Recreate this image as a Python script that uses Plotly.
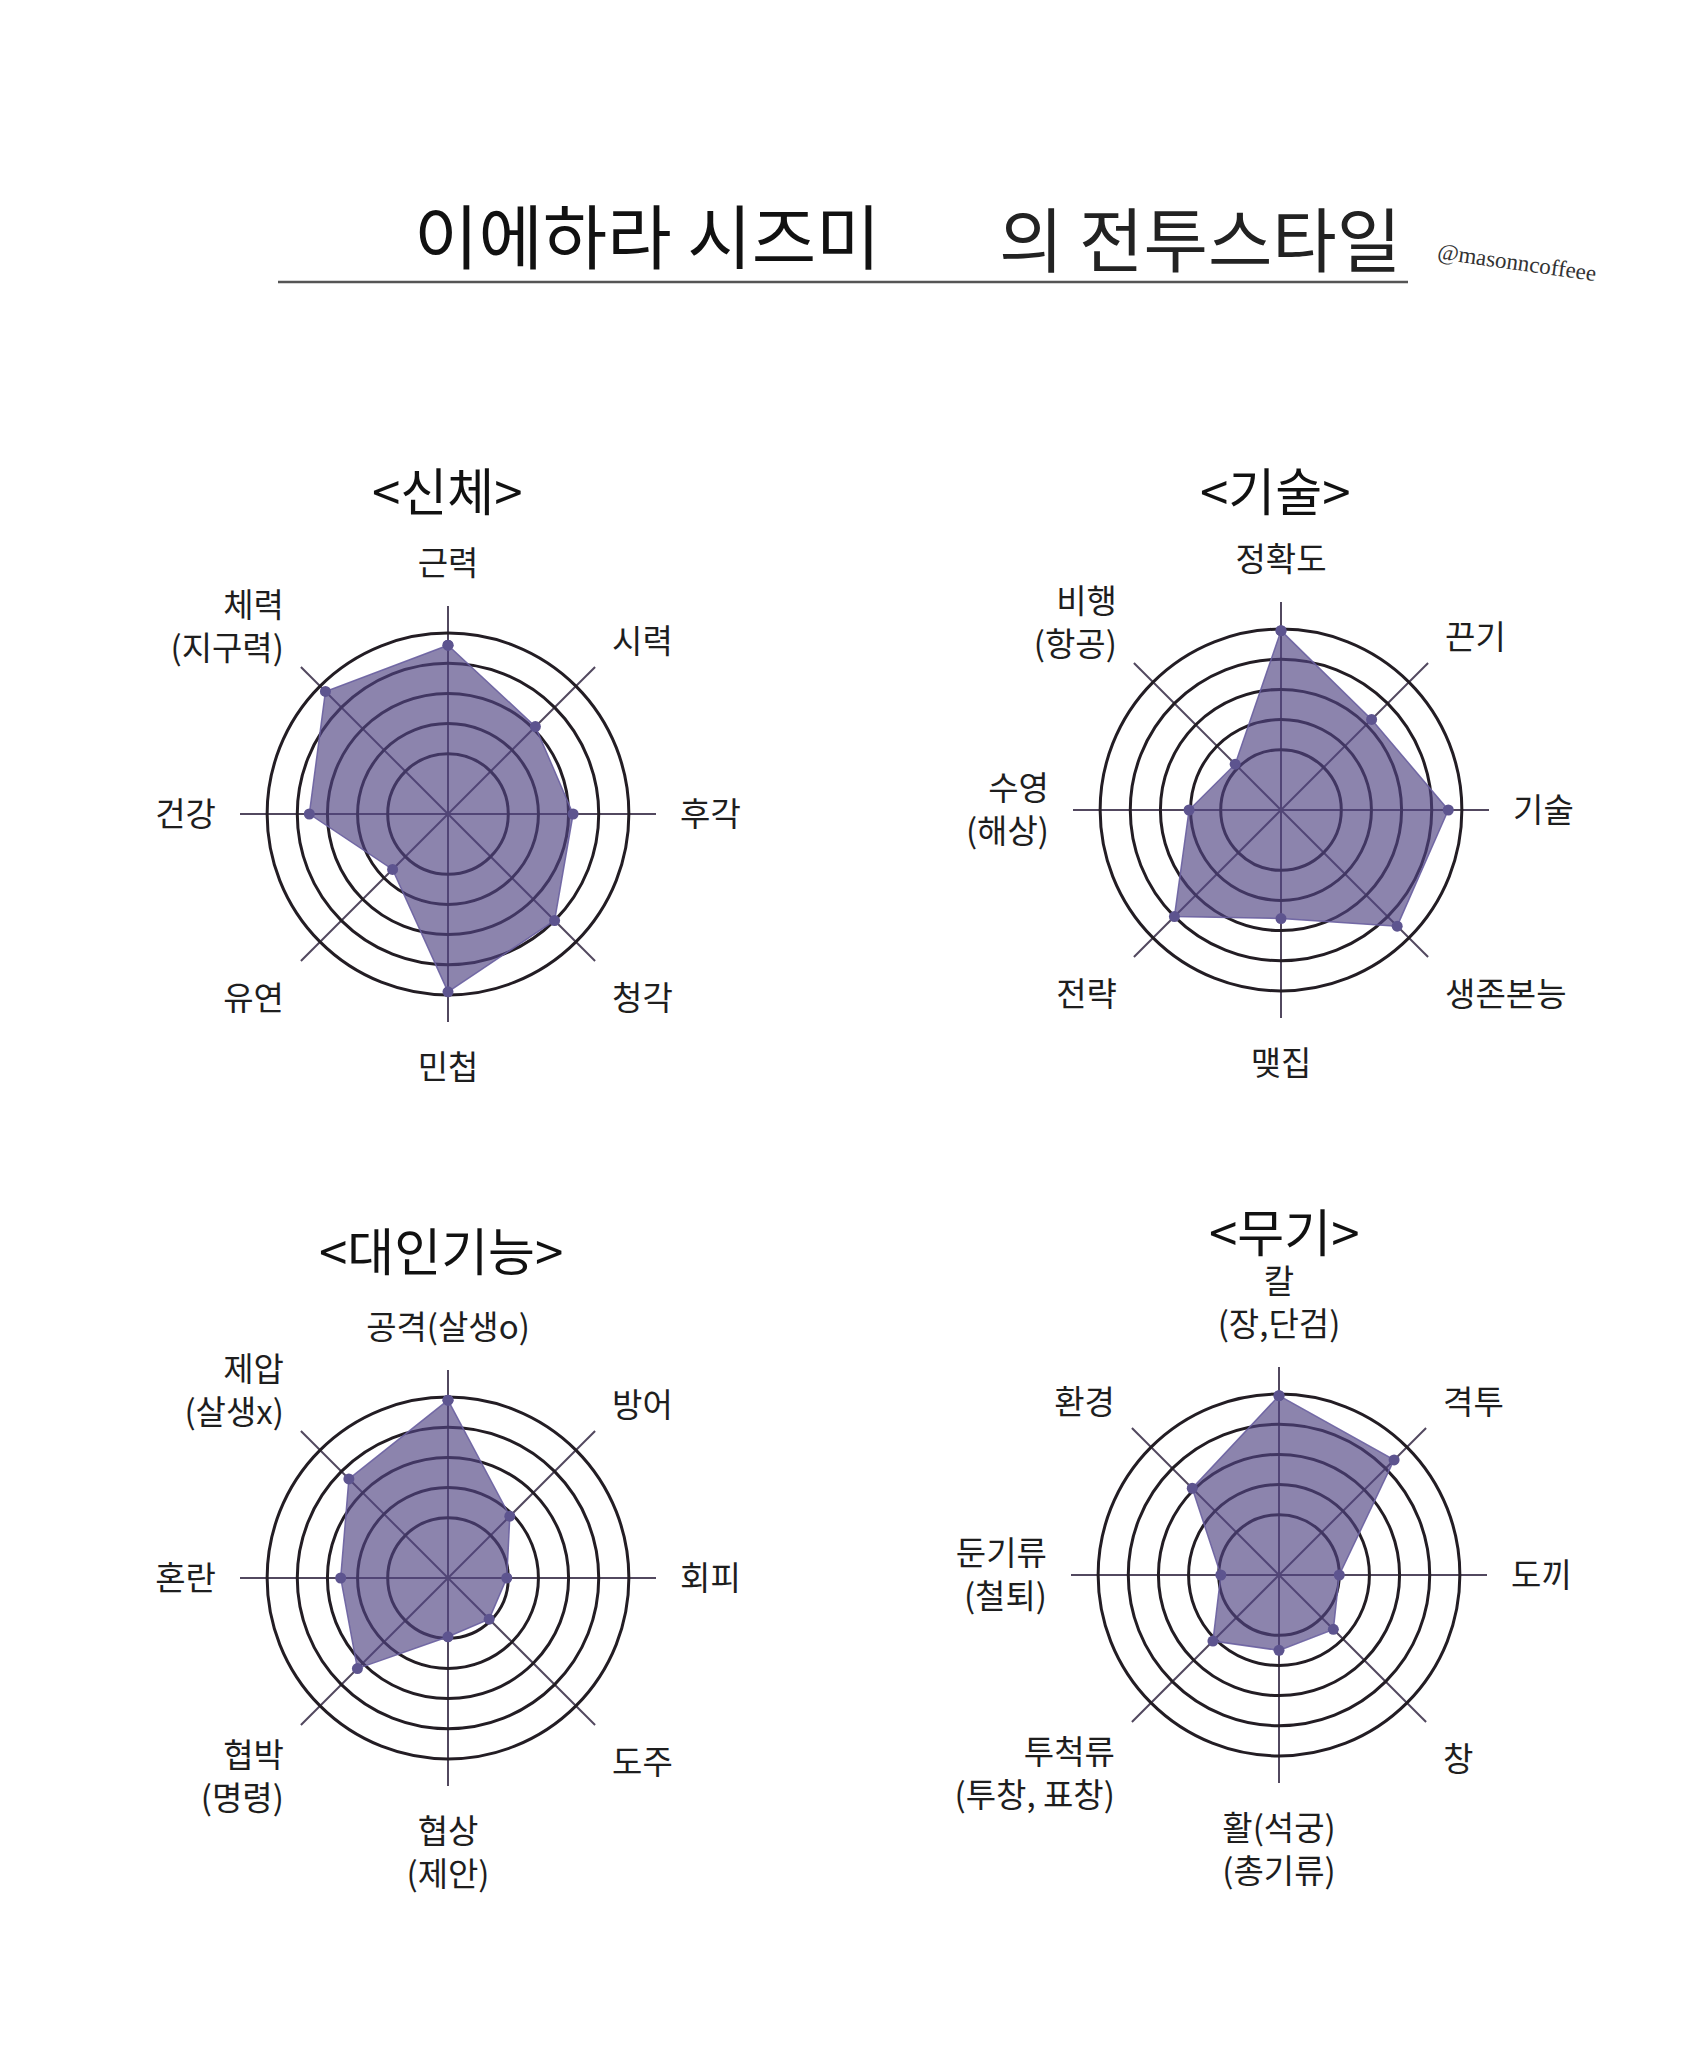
import plotly.graph_objects as go

W, H = 1695, 2048

# ---- data ----
body_axes = ["근력", "시력", "후각", "청각", "민첩", "유연", "건강", "체력<br>(지구력)"]
body_vals = [5.6, 4.1, 4.15, 5.0, 5.9, 2.6, 4.6, 5.75]

tech_axes = ["정확도", "끈기", "기술", "생존본능", "맺집", "전략", "수영<br>(해상)", "비행<br>(항공)"]
tech_vals = [5.95, 4.25, 5.55, 5.45, 3.6, 5.0, 3.05, 2.15]

social_axes = ["공격(살생o)", "방어", "회피", "도주", "협상<br>(제안)", "협박<br>(명령)", "혼란", "제압<br>(살생x)"]
social_vals = [5.9, 2.9, 1.95, 1.93, 1.95, 4.25, 3.56, 4.65]

weapon_axes = ["칼<br>(장,단검)", "격투", "도끼", "창", "활(석궁)<br>(총기류)", "투척류<br>(투창, 표창)", "둔기류<br>(철퇴)", "환경"]
weapon_vals = [5.95, 5.4, 2.0, 2.55, 2.5, 3.1, 1.93, 4.07]

chart_titles = ["<신체>", "<기술>", "<대인기능>", "<무기>"]
ring_vals = [2, 3, 4, 5, 6]
r_max = 6.9

# ---- layout helpers (pixel positions; page has an 8px body margin) ----
OFF = 8
centres = [(448, 814), (1281, 810), (448, 1578), (1279, 1575)]
title_pos = [(447, 489), (1275, 489), (441, 1249), (1284, 1230)]
R_PIX = 208

FONT = "Noto Sans CJK KR"
FILL = "rgba(80,68,130,0.66)"
LINE = "rgba(105,95,160,0.9)"
MARK = "#5d548f"


def px(x):
    return (x - OFF) / W


def py(y):
    return 1 - (y - OFF) / H


fig = go.Figure()
datasets = [(body_axes, body_vals), (tech_axes, tech_vals),
            (social_axes, social_vals), (weapon_axes, weapon_vals)]

for i, (axes, vals) in enumerate(datasets):
    pid = "polar" if i == 0 else f"polar{i+1}"
    fig.add_trace(go.Scatterpolar(
        r=vals + vals[:1], theta=axes + axes[:1],
        mode="lines+markers", fill="toself",
        fillcolor=FILL, line=dict(color=LINE, width=1.5),
        marker=dict(color=MARK, size=11),
        subplot=pid, showlegend=False, hoverinfo="skip"))
    cx, cy = centres[i]
    dom = dict(x=[px(cx - R_PIX), px(cx + R_PIX)],
               y=[py(cy + R_PIX), py(cy - R_PIX)])
    fig.layout[pid] = dict(
        domain=dom, bgcolor="white",
        radialaxis=dict(range=[0, r_max], tickvals=ring_vals, showticklabels=False,
                        ticks="", showline=False, gridcolor="#231d24", gridwidth=3.4),
        angularaxis=dict(rotation=90, direction="clockwise", showline=False,
                         categoryorder="array", categoryarray=axes,
                         gridcolor="#52485f", gridwidth=1.5,
                         ticks="outside", ticklen=17, tickcolor="rgba(0,0,0,0)",
                         tickfont=dict(family=FONT, size=33, color="#1e1e1e")))
    tx, ty = title_pos[i]
    fig.add_annotation(text=chart_titles[i], x=px(tx), y=py(ty), xref="paper", yref="paper",
                       xanchor="center", yanchor="middle", showarrow=False,
                       font=dict(family=FONT, size=51, color="#111"))

# main title
fig.add_annotation(text="이에하라 시즈미", x=px(647), y=py(233), xref="paper", yref="paper",
                   xanchor="center", yanchor="middle", showarrow=False,
                   font=dict(family=FONT, size=70, color="#111"))
fig.add_annotation(text="의 전투스타일", x=px(1200), y=py(236), xref="paper", yref="paper",
                   xanchor="center", yanchor="middle", showarrow=False,
                   font=dict(family=FONT, size=70, color="#222"))
fig.add_annotation(text="@masonncoffeee", x=px(1517), y=py(262), xref="paper", yref="paper",
                   xanchor="center", yanchor="middle", showarrow=False, textangle=8,
                   font=dict(family="Liberation Serif", size=23, color="#333"))
fig.add_shape(type="line", x0=px(278), x1=px(1408), y0=py(282), y1=py(282),
              xref="paper", yref="paper", line=dict(color="#555", width=2.5))

fig.update_layout(width=W, height=H, margin=dict(l=0, r=0, t=0, b=0),
                  paper_bgcolor="white", plot_bgcolor="white")
fig.write_html("out.html")
